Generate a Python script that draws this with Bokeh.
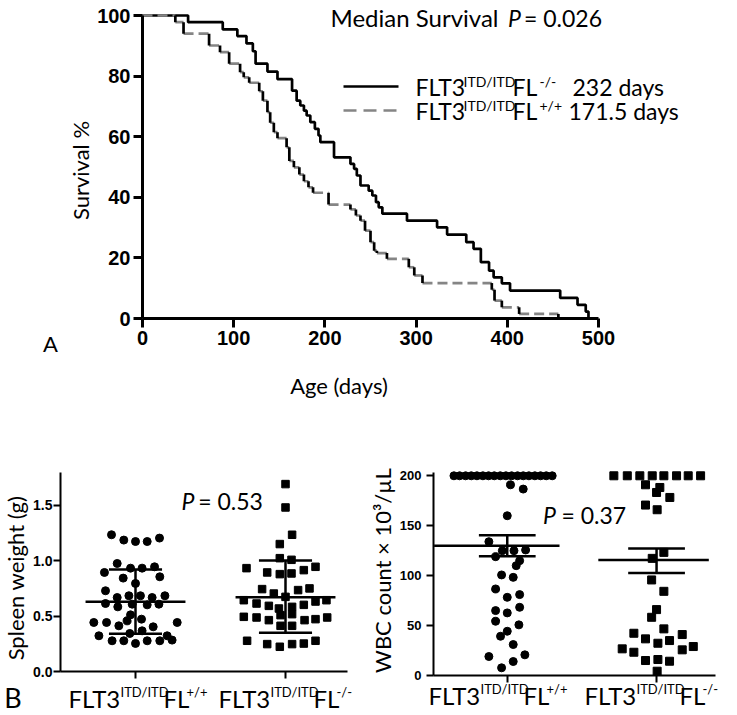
from bokeh.plotting import figure
from bokeh.models import Label, FixedTicker, Range1d, PrintfTickFormatter, CustomJSTickFormatter
from bokeh.layouts import column, row
from bokeh.embed import file_html
from bokeh.resources import INLINE

TXT = "Lato"
NUM = "Liberation Sans"
GRAY = "#858585"

# ---------------- data: panel A (Kaplan-Meier) ----------------
ko_days = [0, 50, 88, 104, 114, 121, 124, 137, 148, 164, 169, 173, 177, 180, 184, 189, 193, 195, 210, 228,
           232, 235, 239, 248, 252, 256, 259, 263, 290, 323, 334, 355, 363, 371, 380, 385, 394, 403, 458, 477,
           486, 489]
ko_surv = [100, 97.8, 95.4, 93.2, 90.8, 88.2, 84.1, 81.5, 79.0, 75.2, 71.9, 70.3, 68.6, 67.0, 64.8, 62.6, 60.4, 58.2, 53.2, 51.0,
           49.4, 47.2, 43.9, 42.2, 40.6, 38.4, 36.7, 34.6, 32.3, 30.1, 27.7, 25.2, 23.0, 18.6, 15.8, 13.6, 11.6, 9.2, 6.8, 4.5,
           2.3, 0]
wt_days = [0, 36, 45, 73, 85, 95, 107, 111, 117, 128, 132, 137, 140, 144, 148, 158, 161, 166, 172, 177,
           182, 187, 204, 228, 234, 239, 244, 250, 254, 257, 268, 292, 298, 307, 383, 386, 394, 413, 456]
wt_surv = [100, 97.8, 94.0, 90.1, 87.9, 84.1, 81.3, 79.6, 77.8, 75.0, 71.9, 68.1, 64.6, 61.5, 59.5, 56.5, 52.0, 49.9, 47.5, 45.3,
           43.3, 41.5, 37.6, 36.0, 34.0, 32.3, 29.0, 25.2, 22.4, 21.6, 19.7, 16.9, 14.2, 11.7, 9.5, 5.9, 3.7, 1.5, 0]
age_ticks = [0, 100, 200, 300, 400, 500]
surv_ticks = [0, 20, 40, 60, 80, 100]

# ---------------- data: panel B spleen ----------------
groups = [1, 2]
spl_wt_off = [-0.16, -0.078, 0, 0.078, 0.16, -0.122, -0.033, 0.044, 0.127, -0.207, 0.162, -0.082, 0, -0.2, -0.122,
              -0.044, 0.033, 0.111, 0.196, -0.2, -0.118, -0.022, 0.078, 0.156, -0.033, -0.056, 0.04, -0.278, -0.193,
              -0.111, 0.118, 0.278, -0.244, -0.038, 0.044, 0.211, -0.156, -0.078, 0, 0.078, 0.162, 0.244]
spl_wt_val = [1.233, 1.185, 1.172, 1.172, 1.203, 0.974, 0.932, 0.932, 0.944, 0.893, 0.854, 0.842, 0.794, 0.728, 0.667,
              0.683, 0.683, 0.667, 0.683, 0.613, 0.583, 0.607, 0.601, 0.607, 0.511, 0.457, 0.472, 0.442, 0.442,
              0.412, 0.403, 0.442, 0.322, 0.343, 0.367, 0.322, 0.277, 0.277, 0.253, 0.277, 0.277, 0.283]
spl_ko_off = [0, 0, 0.044, -0.038, -0.038, 0.04, -0.26, -0.122, -0.038, 0.04, 0.122, 0.2, -0.156, -0.078, 0.084,
              0.16, 0, -0.278, -0.193, -0.111, -0.044, 0.044, 0.122, 0.2, 0.273, -0.278, -0.193, -0.111, -0.033,
              0.044, 0.127, 0.2, 0.278, -0.033, 0.044, -0.256, -0.122, -0.038, 0.044, 0.122, 0.2]
spl_ko_val = [1.69, 1.479, 1.233, 1.149, 1.022, 1.007, 0.932, 0.893, 0.878, 0.884, 0.914, 0.944, 0.743, 0.703, 0.734,
              0.749, 0.673, 0.643, 0.613, 0.592, 0.568, 0.583, 0.601, 0.631, 0.643, 0.493, 0.487, 0.463, 0.508,
              0.517, 0.463, 0.472, 0.487, 0.412, 0.412, 0.277, 0.247, 0.223, 0.247, 0.252, 0.277]
spl_mean = [0.63, 0.67]
spl_lo = [0.34, 0.35]
spl_hi = [0.92, 1.0]
spl_ticks = [0, 0.5, 1.0, 1.5]

# ---------------- data: panel B WBC ----------------
wbc_wt_off = [-0.357, -0.319, -0.279, -0.241, -0.203, -0.163, -0.125, -0.087, -0.047, -0.009, 0.029, 0.069, 0.107,
              0.145, 0.185, 0.223, 0.261, 0.301,
              0.022, 0.107, 0, -0.123, -0.033, 0.045, 0.123, -0.078, 0.083, 0.06, -0.038, 0.04, -0.078, 0.083, 0,
              -0.078, 0, 0.083, -0.078, 0.078, 0, -0.045, 0.04, -0.123, 0.118, 0.04, -0.038]
wbc_wt_val = [200, 200, 200, 200, 200, 200, 200, 200, 200, 200, 200, 200, 200, 200, 200, 200, 200, 200,
              191, 186.7, 160, 134, 125, 125, 125.7, 119, 115, 110, 100.7, 98.3, 86.7, 81, 78.3, 65, 62.7, 68.3,
              54.3, 50.7, 44.3, 39.3, 31, 19, 20.7, 14, 7.7]
wbc_ko_off = [-0.286, -0.196, -0.112, -0.029, 0.049, 0.134, 0.212, 0.295,
              -0.074, 0.022, 0.089, 0, -0.074, 0.004, 0.049, -0.029, -0.033, 0.049, 0, -0.033, 0.049, -0.152,
              -0.074, 0.009, 0.087, 0.172, 0.246, -0.230, -0.152, -0.074, 0.009, 0.087, 0.172, 0.004]
wbc_ko_val = [200, 200, 200, 200, 200, 200, 200, 200,
              191, 188.3, 178.3, 183.3, 170.7, 166, 123.3, 117.3, 95.7, 84.3, 66, 58.3, 46.7, 42.3, 36.7, 32.3,
              35, 41, 29, 26.7, 23.3, 15, 16, 14.3, 25.7, 4.3]
wbc_mean = [130, 115.7]
wbc_lo = [119.5, 102.7]
wbc_hi = [140.5, 127.3]
wbc_ticks = [0, 50, 100, 150, 200]


def lab(p, x, y, text, size, font=TXT, style="normal", angle=0, align="center"):
    p.add_layout(Label(x=x, y=y, text=text, text_font=font, text_font_size=f"{size}px",
                       text_font_style=style, text_align=align, text_baseline="middle",
                       angle=angle, angle_units="deg", text_color="black"))


def make_fig(w, h, xr, yr):
    p = figure(width=w, height=h, output_backend="svg", toolbar_location=None,
               x_range=Range1d(*xr), y_range=Range1d(*yr),
               min_border_left=0, min_border_right=0, min_border_top=0, min_border_bottom=0)
    p.grid.visible = False
    p.outline_line_color = None
    return p


def style_axes(p, lw, tick_out, size, standoff, xfix, yfix, xb, yb):
    for ax in p.axis:
        ax.axis_line_width = lw
        ax.axis_line_color = "black"
        ax.major_tick_line_width = lw
        ax.major_tick_line_color = "black"
        ax.major_tick_out = tick_out
        ax.major_tick_in = 0
        ax.minor_tick_line_color = None
        ax.major_label_text_font = NUM
        ax.major_label_text_font_style = "bold"
        ax.major_label_text_font_size = size
        ax.major_label_text_color = "black"
        ax.major_label_standoff = standoff
    p.xaxis.fixed_location = xfix
    p.yaxis.fixed_location = yfix
    p.xaxis.bounds = xb
    p.yaxis.bounds = yb


def group_label(p, fx, fy, x_left, mid, sup_mid, sup2):
    # pieces placed left to right: FLT3, superscript ITD/ITD, FL, superscript genotype
    lab(p, fx(x_left), fy(mid), "FLT3", 24, align="left")
    lab(p, fx(x_left + 52), fy(sup_mid), "ITD/ITD", 13, align="left")
    lab(p, fx(x_left + 95), fy(mid), "FL", 24, align="left")
    lab(p, fx(x_left + 118), fy(sup_mid), sup2, 13, align="left")


# ================= Panel A =================
fx1 = lambda px: (px - 142) / 0.912
fy1 = lambda py: (318 - py) / 3.03
p1 = make_fig(737, 453, (fx1(0), fx1(737)), (fy1(453), fy1(0)))
style_axes(p1, 3, 9, "20px", 3, 0, 0, (0, 500), (0, 100))
p1.xaxis.ticker = FixedTicker(ticks=age_ticks)
p1.yaxis.ticker = FixedTicker(ticks=surv_ticks)

p1.step(ko_days, ko_surv, mode="after", line_color="black", line_width=2.7)
hx0 = wt_days[:-1]
hx1 = wt_days[1:]
hy = wt_surv[:-1]
vy1 = wt_surv[1:]
p1.segment(x0=hx0, y0=hy, x1=hx1, y1=hy, line_color=GRAY, line_width=2.7, line_dash="10 5")
p1.segment(x0=hx1, y0=hy, x1=hx1, y1=vy1, line_color="black", line_width=2.7)

# legend samples
p1.segment(x0=[fx1(343)], y0=[fy1(86)], x1=[fx1(398)], y1=[fy1(86)], line_color="black", line_width=2.7)
p1.segment(x0=[fx1(343)], y0=[fy1(110)], x1=[fx1(398)], y1=[fy1(110)], line_color=GRAY, line_width=2.7,
           line_dash="13 7")

lab(p1, fx1(414), fy1(17), "Median Survival", 24)
lab(p1, fx1(514), fy1(17), "P", 23, style="italic")
lab(p1, fx1(562.5), fy1(17), "= 0.026", 23)

for mid, sup2, tail, tail_x in [(86, "-/-", "232  days", 572), (110, "+/+", "171.5 days", 568)]:
    lab(p1, fx1(415), fy1(mid), "FLT3", 23, align="left")
    lab(p1, fx1(463), fy1(mid - 5), "ITD/ITD", 14, align="left")
    lab(p1, fx1(512), fy1(mid), "FL", 23, align="left")
    lab(p1, fx1(539), fy1(mid - 5), sup2, 14, align="left")
    lab(p1, fx1(tail_x), fy1(mid), tail, 23, align="left")

lab(p1, fx1(79.5), fy1(170), "Survival %", 22, angle=90)
lab(p1, fx1(338.5), fy1(385), "Age (days)", 22)
lab(p1, fx1(50), fy1(342.5), "A", 22)

# ================= Panel B left (spleen) =================
fx2 = lambda px: 0.5 + (px - 60) / 150
fy2 = lambda py: (671 - py) / 110.9
p2 = make_fig(370, 262, (fx2(0), fx2(370)), (fy2(715), fy2(453)))
style_axes(p2, 2, 7, "14px", 1, 0, fx2(60), (fx2(60), fx2(347)), (0, fy2(472)))
p2.xaxis.ticker = FixedTicker(ticks=groups)
p2.xaxis.formatter = CustomJSTickFormatter(code="return ''")
p2.yaxis.ticker = FixedTicker(ticks=spl_ticks)
p2.yaxis.formatter = PrintfTickFormatter(format="%.1f")

p2.scatter([groups[0] + o for o in spl_wt_off], spl_wt_val, marker="circle", size=8,
           fill_color="black", line_color="black")
p2.scatter([groups[1] + o for o in spl_ko_off], spl_ko_val, marker="square", size=7.5,
           fill_color="black", line_color="black")
p2.segment(x0=[g - 0.333 for g in groups], y0=spl_mean, x1=[g + 0.333 for g in groups], y1=spl_mean,
           line_color="black", line_width=2.5)
p2.segment(x0=groups, y0=spl_lo, x1=groups, y1=spl_hi, line_color="black", line_width=2.5)
p2.segment(x0=[g - 0.177 for g in groups], y0=spl_lo, x1=[g + 0.177 for g in groups], y1=spl_lo,
           line_color="black", line_width=2.5)
p2.segment(x0=[g - 0.177 for g in groups], y0=spl_hi, x1=[g + 0.177 for g in groups], y1=spl_hi,
           line_color="black", line_width=2.5)

lab(p2, fx2(15), fy2(577.5), "Spleen weight (g)", 22, angle=90)
lab(p2, fx2(187.5), fy2(500.7), "P", 23, style="italic")
lab(p2, fx2(230), fy2(500.7), "= 0.53", 23)
group_label(p2, fx2, fy2, 68, 698, 691, "+/+")
group_label(p2, fx2, fy2, 218, 698, 691, "-/-")
lab(p2, fx2(12.5), fy2(697), "B", 27)

# ================= Panel B right (WBC) =================
fx3 = lambda px: 0.506 + (px - 433) / 149.3
fy3 = lambda py: (675 - py) * 203.3 / 203
p3 = make_fig(367, 262, (fx3(370), fx3(737)), (fy3(715), fy3(453)))
style_axes(p3, 2, 7, "13px", 5, 0, fx3(433), (fx3(433), fx3(715)), (0, fy3(472)))
p3.xaxis.ticker = FixedTicker(ticks=groups)
p3.xaxis.formatter = CustomJSTickFormatter(code="return ''")
p3.yaxis.ticker = FixedTicker(ticks=wbc_ticks)

p3.scatter([groups[0] + o for o in wbc_wt_off], wbc_wt_val, marker="circle", size=8,
           fill_color="black", line_color="black")
p3.scatter([groups[1] + o for o in wbc_ko_off], wbc_ko_val, marker="square", size=8,
           fill_color="black", line_color="black")
p3.segment(x0=[groups[0] - 0.49, groups[1] - 0.39], y0=wbc_mean, x1=[g + 0.35 for g in groups], y1=wbc_mean,
           line_color="black", line_width=2.5)
p3.segment(x0=groups, y0=wbc_lo, x1=groups, y1=wbc_hi, line_color="black", line_width=2.5)
p3.segment(x0=[g - 0.19 for g in groups], y0=wbc_lo, x1=[g + 0.19 for g in groups], y1=wbc_lo,
           line_color="black", line_width=2.5)
p3.segment(x0=[g - 0.19 for g in groups], y0=wbc_hi, x1=[g + 0.19 for g in groups], y1=wbc_hi,
           line_color="black", line_width=2.5)

lab(p3, fx3(382), fy3(570), "WBC count \u00d7 10\u00b3/\u00b5L", 22, angle=90)
lab(p3, fx3(549), fy3(514), "P", 23, style="italic")
lab(p3, fx3(593.3), fy3(514), "= 0.37", 23)
group_label(p3, fx3, fy3, 428, 695, 688, "+/+")
group_label(p3, fx3, fy3, 584, 695, 688, "-/-")

layout = column(p1, row(p2, p3))
open("out.html", "w").write(file_html(layout, INLINE))
